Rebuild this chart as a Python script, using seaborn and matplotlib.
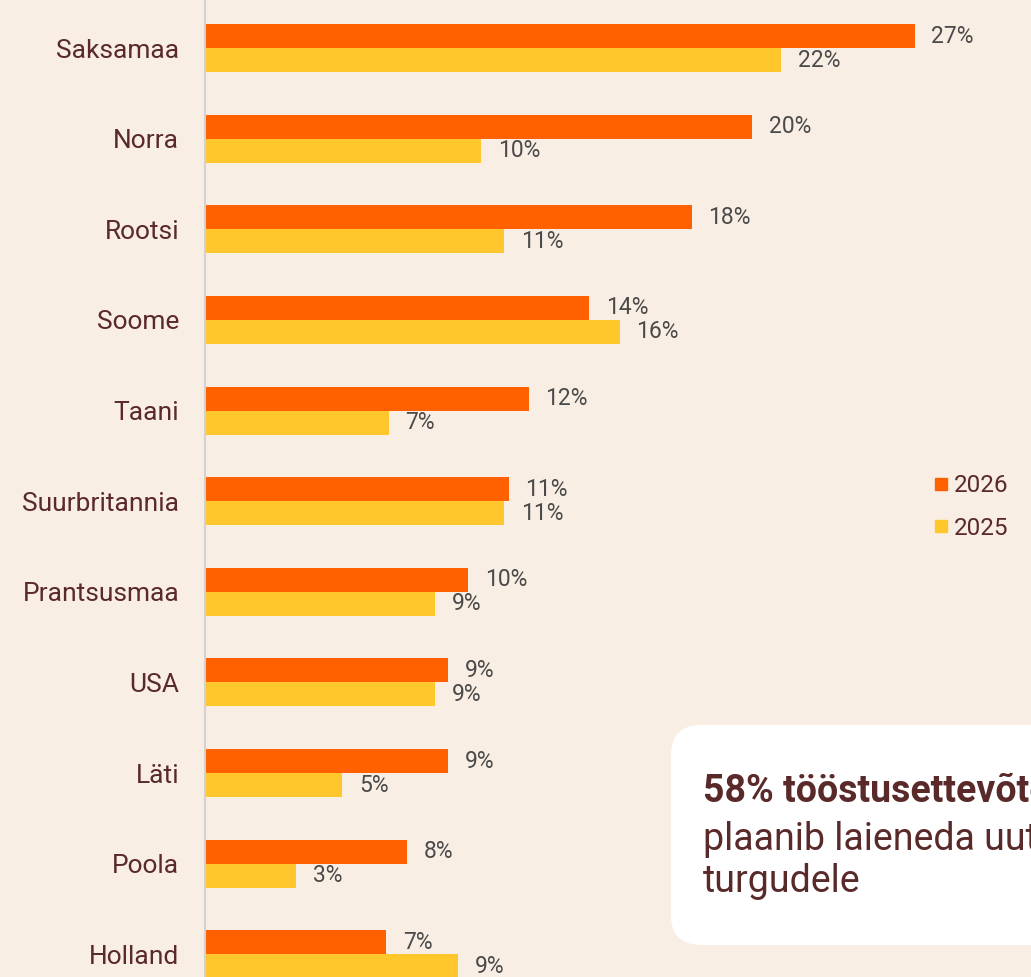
import matplotlib
matplotlib.use("Agg")
import matplotlib.pyplot as plt
import seaborn as sns
import pandas as pd
from matplotlib.patches import FancyBboxPatch
from matplotlib.lines import Line2D

countries = ["Saksamaa", "Norra", "Rootsi", "Soome", "Taani", "Suurbritannia",
             "Prantsusmaa", "USA", "Läti", "Poola", "Holland"]
vals_2026 = [26.55, 20.46, 18.21, 14.38, 12.11, 11.36, 9.84, 9.08, 9.08, 7.56, 6.78]
vals_2025 = [21.56, 10.33, 11.20, 15.51, 6.88, 11.20, 8.60, 8.60, 5.14, 3.42, 9.47]
years = ["2026", "2025"]
box_bold = "58% tööstusettevõtetest"
box_rest = "plaanib laieneda uutele\nturgudele"

BG = "#F9EEE4"
ORANGE = "#FF6100"
YELLOW = "#FFC72C"
TEXT = "#5A2A2A"
VAL = "#4A4A4A"

sns.set_theme(style="white")
plt.rcParams["font.family"] = ["Roboto", "DejaVu Sans"]

df = pd.DataFrame({
    "country": countries * 2,
    "value": vals_2026 + vals_2025,
    "year": ["2026"] * len(countries) + ["2025"] * len(countries),
})

W, H = 1031, 977
fig = plt.figure(figsize=(W / 100, H / 100), dpi=100, facecolor=BG)
ax = fig.add_axes([205 / W, 0, (959 - 205) / W, 1])
ax.set_facecolor(BG)

sns.barplot(data=df, y="country", x="value", hue="year", hue_order=years,
            palette={"2026": ORANGE, "2025": YELLOW}, orient="h",
            width=0.53, ax=ax, legend=False, saturation=1, linewidth=0)

ax.set_xlim(0, (959 - 205) / 26.73)
ax.set_ylim(10.25, -0.53)
ax.set_xlabel("")
ax.set_ylabel("")
ax.set_xticks([])
for s in ["top", "right", "bottom"]:
    ax.spines[s].set_visible(False)
ax.spines["left"].set_color("#D4D2D0")
ax.spines["left"].set_linewidth(1.5)
ax.tick_params(axis="y", length=0, pad=18.5, labelsize=19, labelcolor=TEXT)

for cont in ax.containers:
    ax.bar_label(cont, labels=[f"{round(v):.0f}%" for v in cont.datavalues],
                 padding=12, fontsize=16.5, color=VAL)

handles = [Line2D([0], [0], marker="s", color="none", markerfacecolor=c,
                  markeredgecolor=c, markersize=9) for c in [ORANGE, YELLOW]]
fig.legend(handles, years, loc="center left", bbox_to_anchor=(917 / W, 1 - 507 / H),
           frameon=False, fontsize=17.5, labelcolor=TEXT, handletextpad=0.0,
           labelspacing=0.82, handlelength=1.0, borderpad=0)

box = FancyBboxPatch((671 / W, 1 - 945 / H), 420 / W, 220 / H,
                     boxstyle="round,pad=0,rounding_size=0.03",
                     transform=fig.transFigure, facecolor="white",
                     edgecolor="none", zorder=5)
fig.patches.append(box)
fig.text(703 / W, 1 - 792 / H, box_bold, fontsize=27, fontweight="bold",
         color=TEXT, va="center", ha="left", zorder=6)
fig.text(703 / W, 1 - 840 / H, box_rest.split("\n")[0], fontsize=27, color=TEXT,
         va="center", ha="left", zorder=6)
fig.text(703 / W, 1 - 882 / H, box_rest.split("\n")[1], fontsize=27, color=TEXT,
         va="center", ha="left", zorder=6)

fig.savefig("out.png", dpi=100, facecolor=BG)
